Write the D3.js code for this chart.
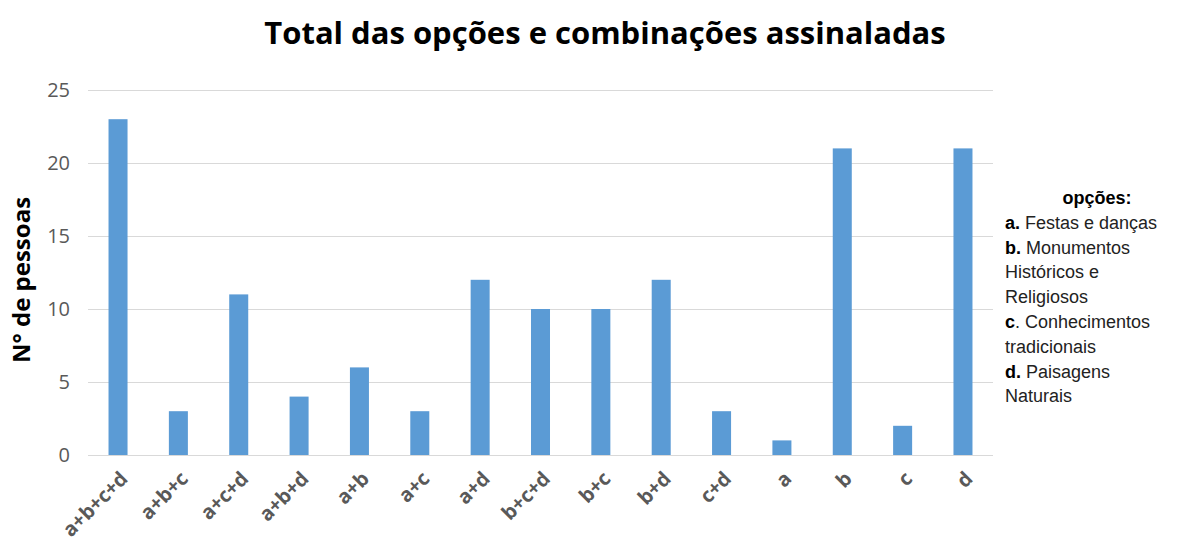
<!DOCTYPE html>
<html lang="pt">
<head>
    <meta charset="utf-8">
    <title>Total das opções e combinações assinaladas</title>
    <script src="https://cdn.jsdelivr.net/npm/d3@7"></script>
    <style>
        body { margin: 0; background: #fff; }
        svg { display: block; }
    </style>
</head>
<body>
<script>
    var categories = ["a+b+c+d", "a+b+c", "a+c+d", "a+b+d", "a+b", "a+c", "a+d",
        "b+c+d", "b+c", "b+d", "c+d", "a", "b", "c", "d"];
    var values = [23, 3, 11, 4, 6, 3, 12, 10, 10, 12, 3, 1, 21, 2, 21];
    var yTicks = [0, 5, 10, 15, 20, 25];

    var legendLines = [
        ["", "opções:"],
        ["a.", " Festas e danças"],
        ["b.", " Monumentos"],
        ["", "Históricos e"],
        ["", "Religiosos"],
        ["c", ". Conhecimentos"],
        ["", "tradicionais"],
        ["d.", " Paisagens"],
        ["", "Naturais"]
    ];

    var width = 1187, height = 545;
    var plotLeft = 88, plotRight = 993, plotTop = 90, plotBottom = 455;

    var svg = d3.select("body").append("svg")
        .attr("width", width)
        .attr("height", height);

    var x = d3.scaleBand()
        .domain(categories)
        .range([plotLeft, plotRight])
        .paddingInner(0.685)
        .paddingOuter(0.34);

    var y = d3.scaleLinear()
        .domain([0, 25])
        .range([plotBottom, plotTop]);

    // grid lines
    svg.append("g")
        .selectAll("line")
        .data(yTicks)
        .enter().append("line")
        .attr("x1", plotLeft)
        .attr("x2", plotRight)
        .attr("y1", function(d) { return y(d) + 0.5; })
        .attr("y2", function(d) { return y(d) + 0.5; })
        .attr("stroke", "#d9d9d9")
        .attr("stroke-width", 1);

    // y tick labels
    svg.append("g")
        .selectAll("text")
        .data(yTicks)
        .enter().append("text")
        .attr("x", 70)
        .attr("y", function(d) { return y(d); })
        .attr("dy", "0.35em")
        .attr("text-anchor", "end")
        .attr("font-family", "Open Sans, sans-serif")
        .attr("font-size", 20)
        .attr("fill", "#595959")
        .text(function(d) { return d; });

    // bars
    svg.append("g")
        .selectAll("rect")
        .data(values)
        .enter().append("rect")
        .attr("x", function(d, i) { return x(categories[i]); })
        .attr("width", x.bandwidth())
        .attr("y", function(d) { return y(d); })
        .attr("height", function(d) { return y(0) - y(d); })
        .attr("fill", "#5b9bd5");

    // x labels, rotated
    svg.append("g")
        .selectAll("text")
        .data(categories)
        .enter().append("text")
        .attr("transform", function(d) {
            return "translate(" + (x(d) + x.bandwidth() / 2 + 6) + "," + 475 + ") rotate(-45)";
        })
        .attr("text-anchor", "end")
        .attr("dy", "0.35em")
        .attr("font-family", "Open Sans, sans-serif")
        .attr("font-size", 20)
        .attr("font-weight", "bold")
        .attr("fill", "#595959")
        .text(function(d) { return d; });

    // title
    svg.append("text")
        .attr("x", 605)
        .attr("y", 44)
        .attr("text-anchor", "middle")
        .attr("font-family", "Open Sans, sans-serif")
        .attr("font-weight", "bold")
        .attr("font-size", 31)
        .attr("fill", "#000")
        .text("Total das opções e combinações assinaladas");

    // y axis title
    svg.append("text")
        .attr("transform", "translate(30,280) rotate(-90)")
        .attr("text-anchor", "middle")
        .attr("font-family", "Open Sans, sans-serif")
        .attr("font-weight", "bold")
        .attr("font-size", 24)
        .attr("fill", "#000")
        .text("N° de pessoas");

    // legend text box
    var legend = svg.append("g")
        .attr("font-family", "Liberation Sans, Arial, sans-serif")
        .attr("font-size", 18)
        .attr("fill", "#000");

    legend.selectAll("text")
        .data(legendLines)
        .enter().append("text")
        .attr("x", function(d, i) { return i === 0 ? 1097 : 1005; })
        .attr("y", function(d, i) { return 204 + i * 24.8; })
        .attr("text-anchor", function(d, i) { return i === 0 ? "middle" : "start"; })
        .each(function(d, i) {
            var t = d3.select(this);
            if (i === 0) {
                t.attr("font-weight", "bold").text(d[1]);
                return;
            }
            if (d[0]) t.append("tspan").attr("font-weight", "bold").text(d[0]);
            t.append("tspan").attr("fill", "#222").text(d[1]);
        });
</script>
</body>
</html>
